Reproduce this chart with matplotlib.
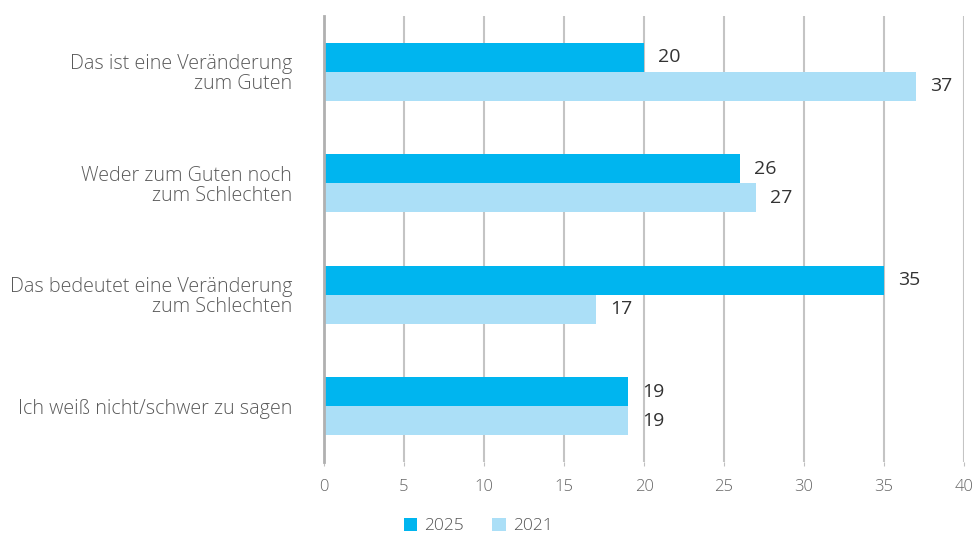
import matplotlib.pyplot as plt
import numpy as np

# Antworten und Anteile in Prozent
kategorien = ["Das ist eine Veränderung\nzum Guten",
              "Weder zum Guten noch\nzum Schlechten",
              "Das bedeutet eine Veränderung\nzum Schlechten",
              "Ich weiß nicht/schwer zu sagen"]
werte_2025 = [20, 26, 35, 19]
werte_2021 = [37, 27, 17, 19]
jahre = ["2025", "2021"]

farbe_2025 = "#00b5ef"
farbe_2021 = "#abdff7"

plt.rcParams['font.family'] = ['Open Sans', 'DejaVu Sans']

fig = plt.figure(figsize=(9.75, 5.33), dpi=100)
ax = fig.add_axes([324/975, 1-462/533, 640/975, 446/533])

y = np.arange(len(kategorien))
h = 0.26
b1 = ax.barh(y - h/2, werte_2025, height=h, color=farbe_2025, label=jahre[0], zorder=3)
b2 = ax.barh(y + h/2, werte_2021, height=h, color=farbe_2021, label=jahre[1], zorder=3)

for balken, werte in ((b1, werte_2025), (b2, werte_2021)):
    for r, w in zip(balken, werte):
        ax.text(w + 0.9, r.get_y() + r.get_height()/2, str(w), va='center', ha='left',
                fontsize=14, color='#333333', fontweight='medium')

ax.set_xlim(0, 40)
ax.set_ylim(3.5, -0.5)
ax.set_xticks(range(0, 41, 5))
ax.set_yticks(y)
ax.set_yticklabels(kategorien, fontsize=14.2, color='#5a5a5a', linespacing=1.0,
                   fontweight='light')
ax.tick_params(axis='y', length=0, pad=23)
ax.tick_params(axis='x', length=3, color='#c0c0c0', labelsize=12, labelcolor='#666666', pad=9)
for t in ax.get_xticklabels():
    t.set_fontweight('light')
ax.grid(axis='x', color='#c4c4c4', linewidth=1.5, zorder=0)
for s in ['top', 'right', 'bottom']:
    ax.spines[s].set_visible(False)
ax.spines['left'].set_color('#b0b0b0')
ax.spines['left'].set_linewidth(2)
ax.spines['left'].set_zorder(4)

leg = fig.legend(loc='center', bbox_to_anchor=(478/975, 1-526/533), ncol=2, frameon=False,
                 fontsize=12.5, handlelength=0.8, handleheight=0.8, columnspacing=1.6,
                 handletextpad=0.4, labelcolor='#555555')
for t in leg.get_texts():
    t.set_fontweight('light')

fig.savefig("out.png", dpi=100)
